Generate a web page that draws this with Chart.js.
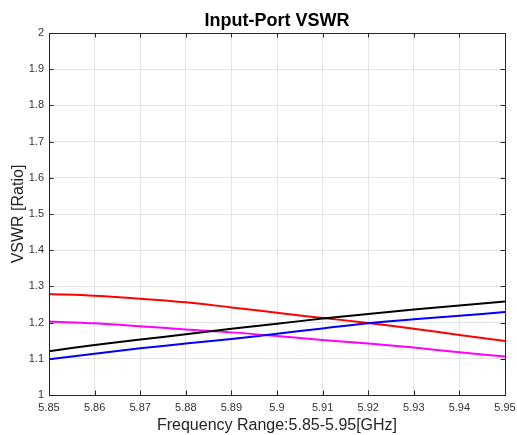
<!DOCTYPE html>
<html>
<head>
<meta charset="utf-8">
<script src="https://cdn.jsdelivr.net/npm/chart.js@4"></script>
<style>
html,body{margin:0;padding:0;background:#fff;}
#wrap{width:517px;height:435px;}
</style>
</head>
<body>
<div id="wrap"><canvas id="c" width="517" height="435"></canvas></div>
<script>
const frequencies = [5.85, 5.86, 5.87, 5.88, 5.89, 5.90, 5.91, 5.92, 5.93, 5.94, 5.95];
const vswrBlack   = [1.121, 1.138, 1.153, 1.168, 1.183, 1.197, 1.211, 1.224, 1.236, 1.247, 1.258];
const vswrBlue    = [1.099, 1.114, 1.129, 1.142, 1.155, 1.169, 1.184, 1.198, 1.209, 1.219, 1.229];
const vswrRed     = [1.279, 1.274, 1.266, 1.256, 1.242, 1.227, 1.213, 1.199, 1.183, 1.166, 1.149];
const vswrMagenta = [1.203, 1.198, 1.190, 1.181, 1.173, 1.163, 1.152, 1.142, 1.131, 1.118, 1.106];
const titleText = 'Input-Port VSWR';
const xLabel = 'Frequency Range:5.85-5.95[GHz]';
const yLabel = 'VSWR [Ratio]';

function pts(arr){ return frequencies.map((f,i)=>({x:f, y:arr[i]})); }

const axisColor = '#262626';
const boxPlugin = {
  id: 'boxTicks',
  afterDraw(chart){
    const {ctx, chartArea:a, scales:{x, y}} = chart;
    ctx.save();
    ctx.strokeStyle = axisColor;
    ctx.lineWidth = 1;
    ctx.beginPath();
    const L = 4.5;
    x.ticks.forEach(t=>{
      const px = Math.round(x.getPixelForValue(t.value)) + 0.5;
      ctx.moveTo(px, a.bottom); ctx.lineTo(px, a.bottom - L);
      ctx.moveTo(px, a.top); ctx.lineTo(px, a.top + L);
    });
    y.ticks.forEach(t=>{
      const py = Math.round(y.getPixelForValue(t.value)) + 0.5;
      ctx.moveTo(a.left, py); ctx.lineTo(a.left + L, py);
      ctx.moveTo(a.right, py); ctx.lineTo(a.right - L, py);
    });
    ctx.stroke();
    ctx.strokeRect(Math.round(a.left)+0.5, Math.round(a.top)+0.5, Math.round(a.right-a.left), Math.round(a.bottom-a.top));
    ctx.restore();
  }
};

const mk = (label, data, color) => ({
  label, data: pts(data), borderColor: color, backgroundColor: color,
  borderWidth: 2, pointRadius: 0, tension: 0.4, fill: false
});

new Chart(document.getElementById('c'), {
  type: 'line',
  data: {
    datasets: [
      mk('Black', vswrBlack, '#000000'),
      mk('Blue', vswrBlue, '#0000ff'),
      mk('Red', vswrRed, '#ff0000'),
      mk('Magenta', vswrMagenta, '#ff00ff')
    ]
  },
  plugins: [boxPlugin],
  options: {
    responsive: false,
    animation: false,
    devicePixelRatio: 1,
    layout: { padding: { left: 0, right: 0, top: 0, bottom: 0 } },
    plugins: {
      legend: { display: false },
      tooltip: { enabled: false },
      title: {
        display: true, text: titleText, fullSize: false,
        color: '#000', font: { family: 'Liberation Sans, Arial, sans-serif', size: 18, weight: 'bold' },
        padding: { top: 10, bottom: 1.4 }
      }
    },
    scales: {
      x: {
        type: 'linear', min: 5.85, max: 5.95,
        afterFit(s){ s.height = 40; s.paddingRight = 12; s.paddingLeft = 0; },
        ticks: {
          stepSize: 0.01, padding: 6, color: '#333', maxRotation: 0, autoSkip: false,
          font: { family: 'Liberation Sans, Arial, sans-serif', size: 11 },
          callback: v => String(Number(Number(v).toFixed(2)))
        },
        grid: { color: '#e3e3e3', drawTicks: false, lineWidth: 1 },
        border: { display: true, color: axisColor },
        title: {
          display: true, text: xLabel, color: '#262626',
          font: { family: 'Liberation Sans, Arial, sans-serif', size: 16 },
          padding: { top: 1, bottom: 0 }
        }
      },
      y: {
        type: 'linear', min: 1, max: 2,
        afterFit(s){ s.width = 49; s.paddingTop = 0; s.paddingBottom = 0; },
        ticks: {
          stepSize: 0.1, padding: 5, color: '#333',
          font: { family: 'Liberation Sans, Arial, sans-serif', size: 11 },
          callback: v => String(Number(Number(v).toFixed(1)))
        },
        grid: { color: '#e3e3e3', drawTicks: false, lineWidth: 1 },
        border: { display: true, color: axisColor },
        title: {
          display: true, text: yLabel, color: '#262626',
          font: { family: 'Liberation Sans, Arial, sans-serif', size: 16 },
          padding: { top: 9, bottom: 0 }
        }
      }
    }
  }
});
</script>
</body>
</html>
